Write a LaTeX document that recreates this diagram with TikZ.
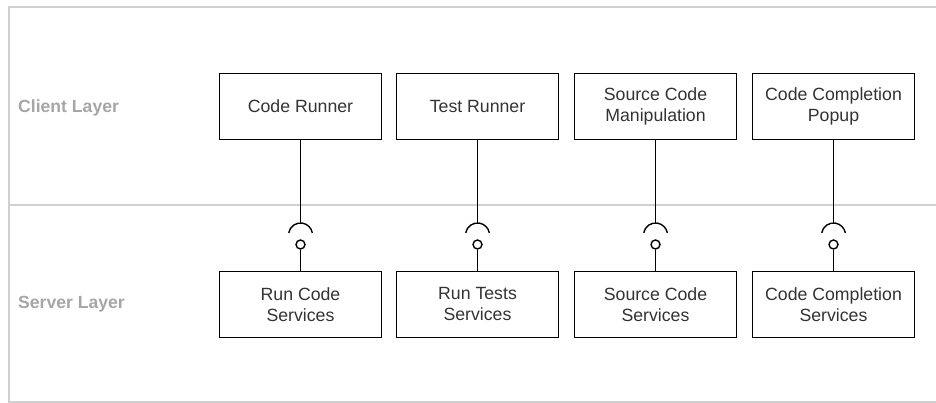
\documentclass[tikz,border=0pt]{standalone}
\usepackage{fontspec}
\setmainfont{Liberation Sans}
\definecolor{framegray}{HTML}{D0D0D0}
\definecolor{labelgray}{HTML}{A6A6A6}
\definecolor{inkgray}{HTML}{333333}
\begin{document}
\begin{tikzpicture}[x=1pt,y=1pt,
  comp/.style={draw=black, line width=1.4pt, minimum width=162pt, minimum height=66pt,
    inner sep=0pt, align=center, text=inkgray, font=\fontsize{17.7}{21}\selectfont},
  layer/.style={anchor=west, inner sep=0pt, text=labelgray, font=\bfseries\fontsize{17.6}{21}\selectfont},
  frame/.style={draw=framegray, line width=1.3pt},
  wire/.style={draw=black, line width=1.4pt},
  ball/.style={circle, draw=black, line width=1.4pt, minimum size=9pt, inner sep=0pt, fill=white}]
\useasboundingbox (0,0) rectangle (936,403);

% swimlane frame and divider
\draw[frame] (936,396) -- (9,396) -- (9,1) -- (936,1);
\draw[frame] (9,198) -- (936,198);

% layer captions
\node[layer] (client) at (18,295) {Client Layer};
\node[layer] (server) at (18,99) {Server Layer};

% client components
\node[comp] (c1) at (300.5,296.5) {Code Runner};
\node[comp] (c2) at (477.5,296.5) {Test Runner};
\node[comp] (c3) at (655.5,296.5) {Source Code\\Manipulation};
\node[comp] (c4) at (833.5,296.5) {Code Completion\\Popup};

% server components
\node[comp] (r1) at (300.5,98.5) {Run Code\\Services};
\node[comp] (r2) at (477.5,98.5) {Run Tests\\Services};
\node[comp] (r3) at (655.5,98.5) {Source Code\\Services};
\node[comp] (r4) at (833.5,98.5) {Code Completion\\Services};

% required (socket) and provided (ball) interfaces
\foreach \i/\x in {1/300.5, 2/477.5, 3/655.5, 4/833.5} {
  \coordinate (top\i) at (\x,180);
  \coordinate (sock\i) at (\x,168);
  \node[ball] (ball\i) at (\x,158.5) {};
  \draw[wire] (c\i.south) -- (top\i);
  \draw[wire] ([shift={(170:12pt)}]sock\i) arc[start angle=170, end angle=10, radius=12pt];
  \draw[wire] (ball\i) -- (r\i.north);
}
\end{tikzpicture}
\end{document}
